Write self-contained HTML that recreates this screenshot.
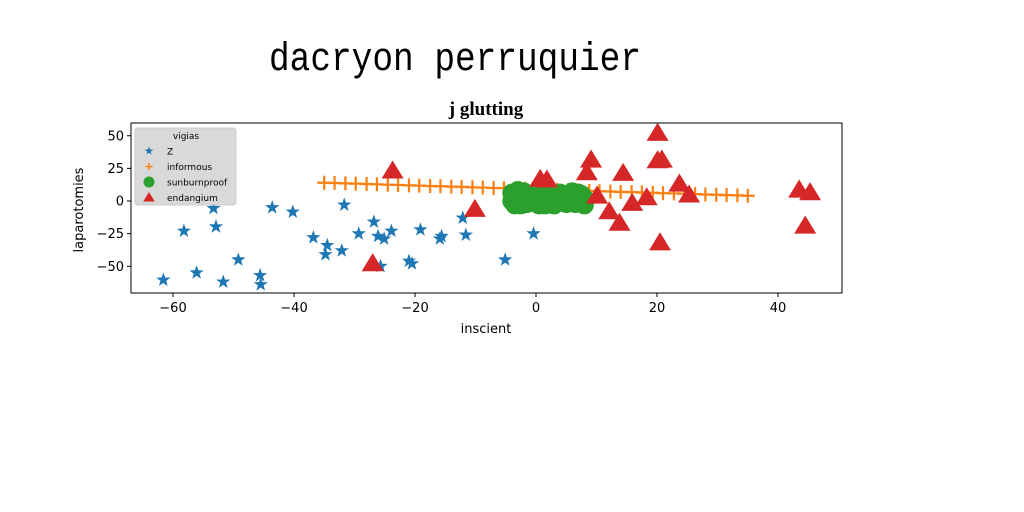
<!DOCTYPE html>
<html><head><meta charset="utf-8"><style>
body{margin:0;background:#fff}
svg{display:block}
text{font-family:"DejaVu Sans","Liberation Sans",sans-serif}
</style></head><body>
<svg id="chart" width="1024" height="512" viewBox="0 0 1024 512" xmlns="http://www.w3.org/2000/svg">
<rect width="1024" height="512" fill="#fff"/>
<text x="455" y="70" font-size="40" textLength="372" lengthAdjust="spacingAndGlyphs" style="font-family:'Liberation Mono','WenQuanYi Zen Hei',monospace" text-anchor="middle">dacryon perruquier</text>
<text x="486" y="115" font-size="19" font-weight="bold" style="font-family:'Liberation Serif',serif" text-anchor="middle">j glutting</text>
<g id="plot"></g>
<rect x="131" y="123" width="711" height="170" fill="none" stroke="#000" stroke-width="1"/>
<g id="axes"></g>
<text x="486" y="333" font-size="13" text-anchor="middle">inscient</text>
<text x="83" y="210" font-size="13" text-anchor="middle" transform="rotate(-90 83 210)">laparotomies</text>
<g>
<rect x="135" y="128" width="101" height="77" rx="3" fill="#d9d9d9" stroke="#ccc"/>
<text x="186" y="139" font-size="9" text-anchor="middle">vigias</text>
<g id="legend-items"></g>
</g>
</svg>
<script>
const starX=[-61.6,-58.2,-56.1,-53.3,-52.9,-51.7,-49.2,-45.6,-45.5,-43.6,-40.2,-36.8,-34.5,-34.8,-32.1,-31.7,-29.3,-26.8,-26.1,-25.7,-25.1,-23.9,-21,-20.5,-19.1,-15.9,-15.6,-12.1,-11.6,-5.1,-0.4];
const starY=[-60.5,-23,-55,-5.6,-19.7,-62,-45,-57,-64,-5,-8.4,-28,-34,-41,-38,-3,-25,-16,-27,-50,-29,-23,-46,-48,-22,-29,-27,-13,-26,-45,-25];
const plusX=[-35,-33.3,-31.5,-29.8,-28,-26.3,-24.5,-22.8,-21,-19.3,-17.5,-15.8,-14,-12.3,-10.5,-8.8,-7,-5.3,-3.5,-1.8,0,1.8,3.5,5.3,7,8.8,10.5,12.3,14,15.8,17.5,19.3,21,22.8,24.5,26.3,28,29.8,31.5,33.3,35];
const plusY=[14,13.8,13.5,13.3,13,12.8,12.5,12.3,12,11.8,11.5,11.3,11,10.8,10.5,10.3,10,9.8,9.5,9.3,9,8.8,8.5,8.3,8,7.8,7.5,7.3,7,6.8,6.5,6.3,6,5.8,5.5,5.3,5,4.8,4.5,4.3,4];
const circX=[-4,-3.5,-3,-2,-1.5,-1,0,0.5,1,2,2.5,3,-4,-2.5,-0.5,1.5,3,4,5,5.5,6,6.5,7,7.5,8,5,6.5,8,4.5,7.5,-3,0.5];
const circY=[6,-3,2,7,-2,4,6,-3,2,5,-1,3,0,-3,0,-3,-3,6,5,0,7,3,6,-2,2,-2,-2,-3,3,5,8,7];
const triX=[20.1,20.1,20.8,9.1,8.4,0.7,1.8,14.4,10.1,12.1,13.8,15.9,18.3,23.7,25.3,20.5,43.5,45.3,44.5,-23.7,-27,-10.1];
const triY=[51.9,30.9,31.4,31.4,21.7,16.6,16.1,21.2,3.8,-8.2,-17,-1.8,2.5,13,4.6,-32,8.4,6.4,-19.2,23,-48,-6.4];
const xTicks=[-60,-40,-20,0,20,40];
const yTicks=[50,25,0,-25,-50];
const legendLabels=["Z","informous","sunburnproof","endangium"];
const NS="http://www.w3.org/2000/svg";
const sx=v=>536+v*6.05, sy=v=>201-v*1.305;
const plot=document.getElementById('plot'), axes=document.getElementById('axes');
function mk(tag,attrs,parent){const e=document.createElementNS(NS,tag);for(const k in attrs)e.setAttribute(k,attrs[k]);parent.appendChild(e);return e;}
function starPath(cx,cy,r){let p='';for(let i=0;i<10;i++){const a=-Math.PI/2+i*Math.PI/5;const rr=i%2?r*0.4:r;p+=(i?'L':'M')+(cx+rr*Math.cos(a)).toFixed(1)+' '+(cy+rr*Math.sin(a)).toFixed(1);}return p+'Z';}
function triPath(cx,cy,s){return `M${cx} ${cy-s} L${cx+s*1.05} ${cy+s*0.72} L${cx-s*1.05} ${cy+s*0.72}Z`;}
xTicks.forEach(t=>{const x=sx(t);
 const l=mk('line',{x1:x,x2:x,y1:293,y2:297,stroke:'#000'},axes);
 
 
 const tx=mk('text',{x:x,y:312,'font-size':13,'text-anchor':'middle'},axes);tx.textContent=(t<0?'\u2212':'')+Math.abs(t);
 
 });
yTicks.forEach(t=>{const y=sy(t);
 const l=mk('line',{x1:127,x2:131,y1:y,y2:y,stroke:'#000'},axes);
 
 
 const tx=mk('text',{x:124,y:y+4.5,'font-size':13,'text-anchor':'end'},axes);tx.textContent=(t<0?'\u2212':'')+Math.abs(t);
 
 });
const gs=mk('g',{},plot);


starX.forEach((v,i)=>{const p=mk('path',{d:starPath(sx(v),sy(starY[i]),7.5),fill:'#1f77b4'},gs);
 
 });
const gp=mk('g',{stroke:'#ff7f0e','stroke-width':2.2},plot);


plusX.forEach((v,i)=>{const x=sx(v),y=sy(plusY[i]);const p=mk('path',{d:`M${x-7} ${y}H${x+7}M${x} ${y-7}V${y+7}`},gp);
 
 });
const gc=mk('g',{fill:'#2ca02c'},plot);


circX.forEach((v,i)=>{const c=mk('circle',{cx:sx(v),cy:sy(circY[i]),r:9.5},gc);
 
 });
const gt=mk('g',{fill:'#d62728'},plot);


triX.forEach((v,i)=>{const p=mk('path',{d:triPath(sx(v),sy(triY[i]),10.5),fill:'#d62728'},gt);
 
 });
const li=document.getElementById('legend-items');
legendLabels.forEach((lab,i)=>{const y=151+i*15.5,x=149;
 let m;
 if(i==0)m=mk('path',{d:starPath(x,y,4.5),fill:'#1f77b4'},li);
 else if(i==1)m=mk('path',{d:`M${x-3.5} ${y}H${x+3.5}M${x} ${y-3.5}V${y+3.5}`,stroke:'#ff7f0e','stroke-width':1.5},li);
 else if(i==2)m=mk('circle',{cx:x,cy:y,r:5.5,fill:'#2ca02c'},li);
 else m=mk('path',{d:triPath(x,y,5.5),fill:'#d62728'},li);
 
 
 const t=mk('text',{x:167,y:y+3.5,'font-size':9},li);t.textContent=lab;
 
 });
</script>
</body></html>
